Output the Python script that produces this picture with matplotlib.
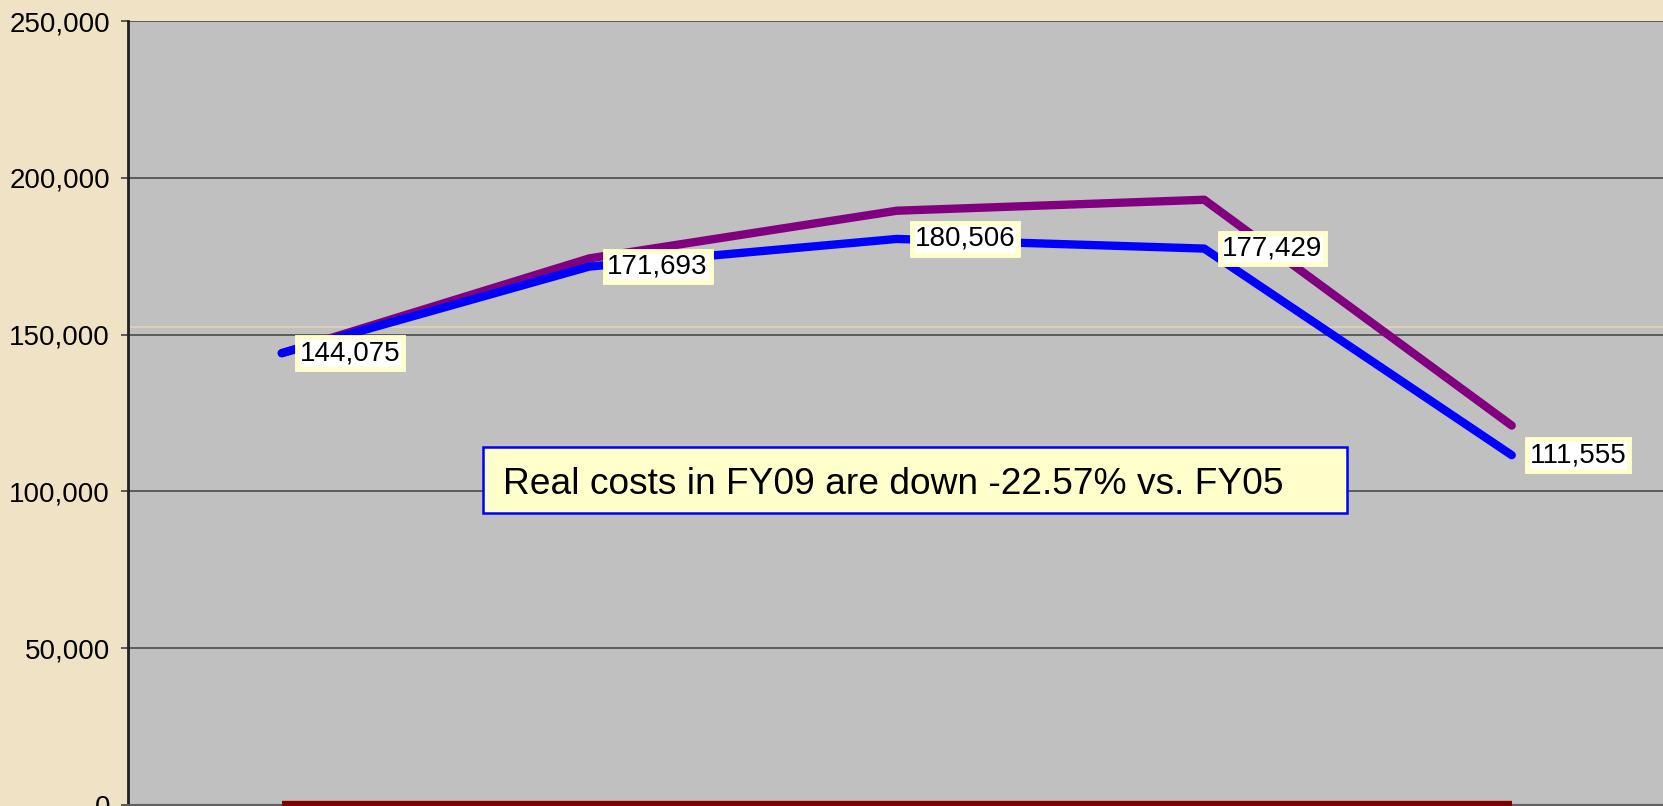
import matplotlib
matplotlib.use("Agg")
import matplotlib.pyplot as plt
import matplotlib.patches as patches
from matplotlib.ticker import FuncFormatter

plt.rcParams['font.family'] = ['Liberation Sans', 'DejaVu Sans']

# --- Data ---
years = ["FY05", "FY06", "FY07", "FY08", "FY09"]
real_costs = [144075, 171693, 180506, 177429, 111555]
nominal_costs = [144075, 174300, 189500, 193000, 121000]
zero_series = [0, 0, 0, 0, 0]
note_text = "Real costs in FY09 are down -22.57% vs. FY05"

# --- Figure ---
W, H = 1663, 806
fig = plt.figure(figsize=(W / 100, H / 100), dpi=100)
fig.patch.set_facecolor('#F0E2C4')

ax_left, ax_right = 128, 1665.5
ax_top, ax_bottom = 21, 805
ax = fig.add_axes([ax_left / W, 1 - ax_bottom / H,
                   (ax_right - ax_left) / W, (ax_bottom - ax_top) / H])
ax.set_facecolor('#C0C0C0')

x = list(range(len(years)))
ax.set_xlim(-0.5, len(years) - 0.5)
ax.set_ylim(0, 250000)
ax.set_yticks(range(0, 250001, 50000))
ax.yaxis.set_major_formatter(FuncFormatter(lambda v, p: f"{int(v):,}"))
ax.set_xticks([])

ax.grid(axis='y', color='#404040', linewidth=1.1, zorder=1)
ax.set_axisbelow(True)
# faint seam line across the plot area
ax.axhline(152300, color='#E3D3B3', linewidth=1.2, zorder=1.5)

for side in ['top', 'right']:
    ax.spines[side].set_visible(False)
ax.spines['left'].set_color('#202020')
ax.spines['left'].set_linewidth(2)
ax.spines['bottom'].set_color('#606060')
ax.spines['bottom'].set_linewidth(1.5)

ax.tick_params(axis='y', length=5, width=1.2, color='#404040', pad=8,
               labelsize=20, labelcolor='black')

# --- Lines ---
ax.plot(x, zero_series, color='#800000', linewidth=6, solid_capstyle='butt',
        zorder=4, clip_on=False)
ax.plot(x, nominal_costs, color='#800080', linewidth=6, solid_capstyle='round',
        solid_joinstyle='round', zorder=5)
ax.plot(x, real_costs, color='#0000FF', linewidth=6, solid_capstyle='round',
        solid_joinstyle='round', zorder=6)

# --- Data labels ---
for xi, v in zip(x, real_costs):
    ax.annotate(f"{v:,}", (xi, v), xytext=(13, 0), textcoords='offset points',
                ha='left', va='center', fontsize=20, color='black', zorder=8,
                bbox=dict(boxstyle='square,pad=0.1', fc='white',
                          ec='#FFFFCC', lw=3.5))

# --- Note box ---
box_l, box_r, box_t, box_b = 483, 1347, 447, 513
aw, ah = ax_right - ax_left, ax_bottom - ax_top
ax.add_patch(patches.Rectangle(((box_l - ax_left) / aw, (ax_bottom - box_b) / ah),
                               (box_r - box_l) / aw, (box_b - box_t) / ah,
                               transform=ax.transAxes, facecolor='#FFFFCC',
                               edgecolor='#0000FF', linewidth=1.8, zorder=9))
ax.text((503 - ax_left) / aw, (ax_bottom - 494) / ah, note_text,
        transform=ax.transAxes, ha='left', va='baseline', fontsize=26.7,
        color='black', zorder=10)

fig.savefig('out.png', dpi=100, facecolor=fig.get_facecolor())
